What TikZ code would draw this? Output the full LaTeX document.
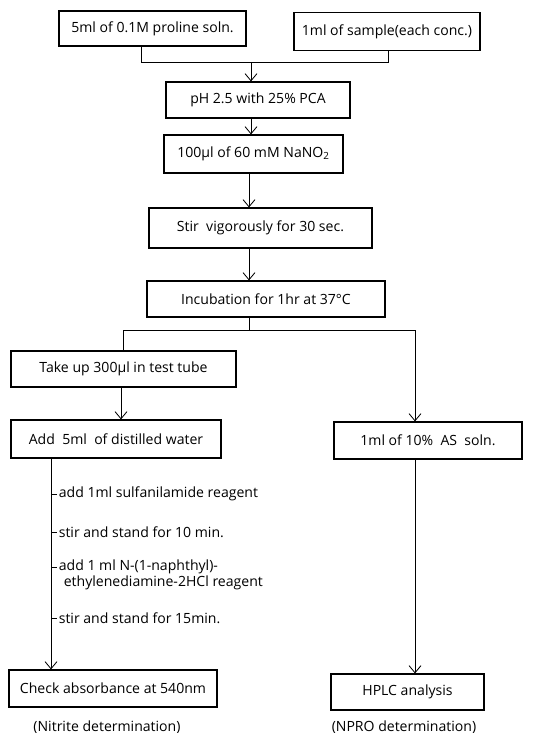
\documentclass[tikz,border=0pt]{standalone}
\usepackage{fontspec}
\setmainfont{Open Sans}
\usepackage{tikz}
\usetikzlibrary{calc, arrows.meta}
\tikzset{every node/.append style={font=\fontsize{10}{12}\selectfont}}
\tikzset{
    box/.style 2 args={draw, line width=0.8pt, inner sep=0pt,
        minimum width=#1*0.25mm, minimum height=#2*0.25mm},
    steptext/.style={anchor=west, inner sep=1pt},
    note/.style={inner sep=0pt},
}

\begin{document}
\begin{tikzpicture}[x=0.25mm, y=-0.25mm, >={Straight Barb[length=1.8mm, width=3mm]}, line width=0.6pt]
    \useasboundingbox (0,0) rectangle (545,733);
    % spines of the flow
    \coordinate (spine) at (249,0);
    \coordinate (lspine) at (51,0);
    \coordinate (mspine) at (121,0);
    \coordinate (rspine) at (415,0);
    % boxes
    \node[box={187}{35}] (proline) at (152.5,28.5) {5ml of 0.1M proline soln.};
    \node[box={186}{38}] (sample) at (387,31.5) {1ml of sample(each conc.)};
    \node[box={184}{36}] (ph) at (258,100) {pH 2.5 with 25\% PCA};
    \node[box={179}{38}] (nitrite) at (253.5,154) {100µl of 60 mM NaNO\textsubscript{2}};
    \node[box={223}{40}] (stir) at (260.5,228) {Stir\ \ vigorously for 30 sec.};
    \node[box={238}{36}] (incub) at (266,299) {Incubation for 1hr at 37°C};
    \node[box={225}{36}] (take) at (123.5,369) {Take up 300µl in test tube};
    \node[box={210}{38}] (water) at (116,439) {Add\ \ 5ml\ \ of distilled water};
    \node[box={188}{37}] (as) at (428,440.5) {1ml of 10\%\ \ AS\ \ soln.};
    \node[box={208}{37}] (check) at (113,688.5) {Check absorbance at 540nm};
    \node[box={153}{36}] (hplc) at (407.5,692) {HPLC analysis};
    \node[note] (nitdet) at (107,727) {(Nitrite determination)};
    \node[note] (nprodet) at (404,727) {(NPRO determination)};
    % steps beside the left line
    \node[steptext] (s1) at (57,494) {add 1ml sulfanilamide reagent};
    \node[steptext] (s2) at (57,532) {stir and stand for 10 min.};
    \node[steptext] (s3) at (57,567) {add 1 ml N-(1-naphthyl)-};
    \node[steptext] (s3b) at (62,583) {ethylenediamine-2HCl reagent};
    \node[steptext] (s4) at (57,618) {stir and stand for 15min.};
    % connectors
    \coordinate (join) at (251,62);
    \draw ($(proline.south)+(-11,0)$) |- (join);
    \draw ($(sample.south)+(1,0)$) |- (join);
    \draw[->] (join) -- (join |- ph.north);
    \draw[->] (ph.south -| join) -- (nitrite.north -| join);
    \draw[->] (nitrite.south -| spine) -- (stir.north -| spine);
    \draw[->] (stir.south -| spine) -- (incub.north -| spine);
    \draw (incub.south -| spine) -- ++(0,13) coordinate (split);
    \draw (split) -| (take.north);
    \draw[->] (split) -| (as.north -| rspine);
    \draw[->] (take.south -| mspine) -- (water.north -| mspine);
    \draw[->] (water.south -| lspine) -- (check.north -| lspine);
    \draw[->] (as.south -| rspine) -- (hplc.north -| rspine);
    \foreach \s in {s1, s2, s3, s4}
        \draw (\s.west -| lspine) -- (\s.west);
\end{tikzpicture}
\end{document}
